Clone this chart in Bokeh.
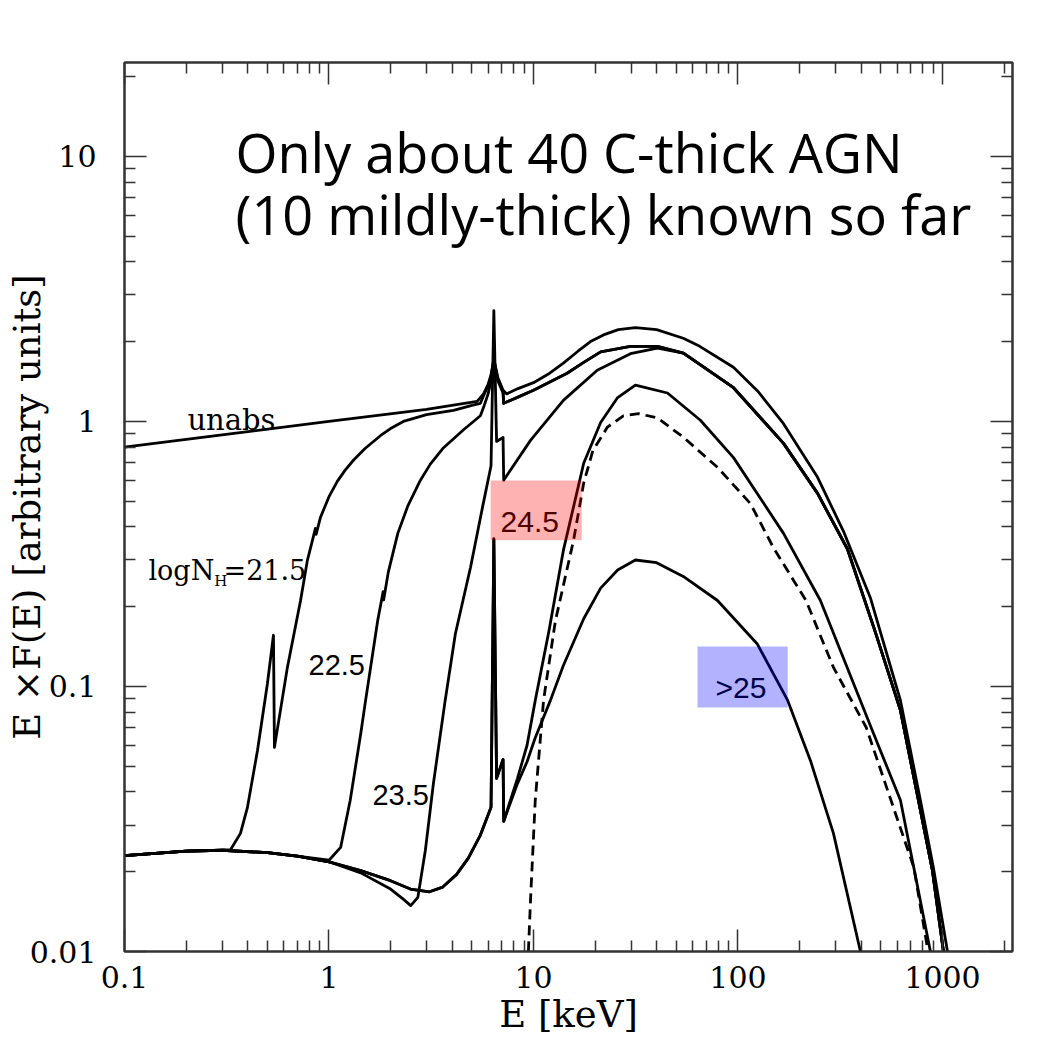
from bokeh.plotting import figure
from bokeh.models import Range1d, FixedTicker, LogAxis, Label, BoxAnnotation, CustomJSTickFormatter
from bokeh.embed import file_html
from bokeh.resources import INLINE

# ---------------- data ----------------
x_ticks = [0.1, 1, 10, 100, 1000]
x_tick_labels = ["0.1", "1", "10", "100", "1000"]
y_ticks = [0.01, 0.1, 1, 10]
y_tick_labels = ["0.01", "0.1", "1", "10"]

E_unabs = [0.1, 0.3, 1.0, 3.0, 5.3, 5.7, 6.0, 6.2, 6.4, 6.7, 7.1, 7.4, 8.4, 10, 12, 14, 16.5, 19, 22, 26,
           31.5, 40, 54, 65, 95, 125, 167, 245, 328, 445, 623, 780, 903, 1058]
F_unabs = [0.80, 0.89, 1.0, 1.11, 1.19, 1.27, 1.38, 1.50, 1.72, 1.46, 1.31, 1.27, 1.33, 1.40, 1.52, 1.66,
           1.84, 2.00, 2.12, 2.22, 2.26, 2.22, 2.06, 1.92, 1.60, 1.30, 0.98, 0.615, 0.385, 0.215, 0.0885,
           0.0372, 0.0207, 0.010]

E_nh215 = [0.1, 0.2, 0.3, 0.33, 0.369, 0.399, 0.447, 0.50, 0.535, 0.541, 0.626, 0.726, 0.784, 0.83, 0.858,
           0.865, 0.909, 1.0, 1.10, 1.2, 1.32, 1.5, 1.79, 2.0, 2.31, 3.0, 4.06, 5.0, 5.5, 5.7, 6.0, 6.2, 6.4,
           6.7, 7.1, 7.15, 8.5, 10, 14.6, 17.6, 21.3, 29.8, 40.4, 54.1, 95.1, 167, 245, 343, 470, 623, 780,
           893, 1011]
F_nh215 = [0.0230, 0.0239, 0.0241, 0.0242, 0.0279, 0.0349, 0.0573, 0.1026, 0.156, 0.0589, 0.118, 0.211,
           0.299, 0.356, 0.395, 0.375, 0.435, 0.52, 0.595, 0.655, 0.715, 0.79, 0.885, 0.94, 1.0, 1.06, 1.10,
           1.15, 1.17, 1.25, 1.36, 1.48, 1.70, 1.44, 1.29, 1.17, 1.24, 1.31, 1.52, 1.67, 1.83, 1.92, 1.92,
           1.81, 1.34, 0.826, 0.535, 0.330, 0.160, 0.0812, 0.0341, 0.0202, 0.01]

E_nh225 = [0.1, 0.2, 0.3, 0.5, 0.7, 1.0, 1.14, 1.27, 1.43, 1.51, 1.73, 1.84, 1.85, 1.95, 2.17, 2.43, 2.80,
           3.13, 3.6, 4.55, 5.5, 5.7, 6.0, 6.2, 6.4, 6.7, 7.1, 7.15, 8.5, 10, 14.6, 17.6, 21.3, 29.8, 40.4,
           54.1, 95.1, 167, 245, 343, 470, 623, 780, 893, 1011]
F_nh225 = [0.0230, 0.0239, 0.0241, 0.0236, 0.0229, 0.0221, 0.0247, 0.0372, 0.0665, 0.0886, 0.177, 0.228,
           0.212, 0.27, 0.378, 0.48, 0.60, 0.69, 0.79, 0.93, 1.05, 1.13, 1.27, 1.42, 1.68, 1.42, 1.28, 1.17,
           1.24, 1.31, 1.52, 1.67, 1.83, 1.92, 1.92, 1.81, 1.34, 0.826, 0.535, 0.330, 0.160, 0.0812, 0.0341,
           0.0202, 0.01]

E_nh235 = [0.1, 0.2, 0.3, 0.5, 0.7, 1.0, 1.43, 2.0, 2.3, 2.51, 2.72, 2.96, 3.24, 3.7, 4.15, 4.92, 5.65, 6.2,
           6.4, 6.6, 7.1, 7.15, 9.67, 14, 20.5, 29.8, 40.4, 54.1, 95.1, 167, 245, 343, 470, 623, 780, 893, 1011]
F_nh235 = [0.0230, 0.0239, 0.0241, 0.0236, 0.0229, 0.0218, 0.0198, 0.0172, 0.0158, 0.0149, 0.0160, 0.0241,
           0.043, 0.0886, 0.158, 0.281, 0.48, 0.68, 2.62, 0.84, 0.87, 0.60, 0.848, 1.20, 1.56, 1.80, 1.89,
           1.81, 1.34, 0.826, 0.535, 0.330, 0.160, 0.0812, 0.0341, 0.0202, 0.01]

E_nh245 = [0.1, 0.2, 0.3, 0.5, 0.7, 1.0, 1.43, 2.0, 2.5, 3.1, 3.6, 4.2, 4.8, 5.5, 6.2, 6.4, 6.6, 7.1, 7.15,
           8.35, 9.3, 10.2, 11.9, 14, 17.6, 21.3, 25.8, 31.5, 45.2, 65.5, 95.1, 167, 253, 460, 623, 873]
F_nh245 = [0.0230, 0.0239, 0.0241, 0.0236, 0.0229, 0.0218, 0.0202, 0.0185, 0.0172, 0.0168, 0.0175, 0.0195,
           0.0225, 0.0275, 0.035, 0.36, 0.045, 0.053, 0.031, 0.045, 0.060, 0.0886, 0.162, 0.326, 0.695, 0.99,
           1.23, 1.37, 1.28, 1.01, 0.73, 0.378, 0.211, 0.0665, 0.0372, 0.01]

E_nh25 = [0.1, 0.2, 0.3, 0.5, 0.7, 1.0, 1.43, 2.0, 2.5, 3.1, 3.6, 4.2, 4.8, 5.5, 6.2, 6.4, 6.6, 7.1, 7.15,
          8.35, 9.3, 10.2, 12.1, 14, 17.6, 21.3, 25.8, 31.5, 40, 54, 79.4, 124, 175, 226, 293, 397]
F_nh25 = [0.0230, 0.0239, 0.0241, 0.0236, 0.0229, 0.0218, 0.0202, 0.0185, 0.0172, 0.0168, 0.0175, 0.0195,
          0.0225, 0.0275, 0.035, 0.36, 0.045, 0.053, 0.031, 0.043, 0.052, 0.064, 0.0886, 0.12, 0.18, 0.235,
          0.275, 0.30, 0.293, 0.26, 0.211, 0.145, 0.0886, 0.0526, 0.0279, 0.01]

E_dash = [9.1, 9.67, 10.2, 11.2, 12.8, 15.7, 17.6, 19.5, 23.0, 27.5, 32.6, 40.4, 54.1, 79.4, 115, 149, 215,
          293, 424, 560, 725, 850]
F_dash = [0.005, 0.0156, 0.0372, 0.0886, 0.177, 0.356, 0.585, 0.775, 0.952, 1.05, 1.07, 1.03, 0.871, 0.671,
          0.49, 0.334, 0.211, 0.118, 0.070, 0.0372, 0.0207, 0.01]

# ---------------- figure ----------------
AX = "#333333"
p = figure(width=1053, height=1060, x_axis_type="log", y_axis_type="log",
           x_range=Range1d(0.1, 2200), y_range=Range1d(0.01, 22.6),
           output_backend="svg", toolbar_location=None,
           min_border_left=124, min_border_right=41, min_border_top=62, min_border_bottom=109)
p.title.visible = False
p.grid.visible = False
p.background_fill_color = "white"
p.border_fill_color = "white"
p.outline_line_color = AX
p.outline_line_width = 2

x_minor = [m * 10.0 ** k for k in range(-1, 4) for m in range(2, 10) if m * 10.0 ** k < 2200]
y_minor = [m * 10.0 ** k for k in range(-2, 2) for m in range(2, 10) if m * 10.0 ** k < 22.6]


def style(ax, ticks, minor, labels=None):
    ax.ticker = FixedTicker(ticks=ticks, minor_ticks=minor)
    ax.axis_line_color = AX
    ax.axis_line_width = 2
    ax.major_tick_line_color = AX
    ax.minor_tick_line_color = AX
    ax.major_tick_line_width = 1.5
    ax.minor_tick_line_width = 1.5
    ax.major_tick_in = 22
    ax.major_tick_out = 0
    ax.minor_tick_in = 11
    ax.minor_tick_out = 0
    if labels is None:
        ax.formatter = CustomJSTickFormatter(code="return '';")
        ax.major_label_standoff = 0
        ax.major_label_text_font_size = "2px"
    else:
        mapping = {str(t): s for t, s in zip(ticks, labels)}
        ax.formatter = CustomJSTickFormatter(args=dict(m=mapping),
                                             code="const k = String(tick); return (k in m) ? m[k] : '';")
        ax.major_label_text_font = "DejaVu Serif"
        ax.major_label_text_font_size = "30px"
        ax.major_label_text_color = "black"
        ax.axis_label_text_font = "DejaVu Serif"
        ax.axis_label_text_font_size = "37px"
        ax.axis_label_text_font_style = "normal"
        ax.axis_label_text_color = "black"


xa = p.xaxis[0]
ya = p.yaxis[0]
style(xa, x_ticks, x_minor, x_tick_labels)
style(ya, y_ticks, y_minor, y_tick_labels)
xa.axis_label = "E [keV]"
xa.major_label_standoff = 14
xa.axis_label_standoff = 2
ya.axis_label = "E \u00d7F(E) [arbitrary units]"
ya.major_label_standoff = 28
ya.axis_label_standoff = -22

top = LogAxis()
style(top, x_ticks, x_minor)
p.add_layout(top, "above")
right = LogAxis()
style(right, y_ticks, y_minor)
p.add_layout(right, "right")

LW = 2.8
for E, F in [(E_unabs, F_unabs), (E_nh215, F_nh215), (E_nh225, F_nh225), (E_nh235, F_nh235),
             (E_nh245, F_nh245), (E_nh25, F_nh25)]:
    p.line(E, F, line_color="black", line_width=LW, line_join="round")
p.line(E_dash, F_dash, line_color="black", line_width=LW, line_dash="10 6")

# highlight boxes
p.add_layout(BoxAnnotation(left=6.17, right=17.2, bottom=0.356, top=0.598,
                           fill_color="#ff0000", fill_alpha=0.3, line_alpha=0))
p.add_layout(BoxAnnotation(left=63.4, right=175, bottom=0.0833, top=0.1416,
                           fill_color="#0000ff", fill_alpha=0.3, line_alpha=0))


def lab(x, y, text, font, size, color="black"):
    p.add_layout(Label(x=x, y=y, text=text, text_font=font, text_font_size=size,
                       text_color=color, text_align="left", text_baseline="alphabetic"))


lab(0.203, 1.01, "unabs", "DejaVu Serif", "29px")
lab(0.131, 0.274, "logN", "DejaVu Serif", "27px")
lab(0.275, 0.251, "H", "DejaVu Serif", "15px")
lab(0.305, 0.274, "=21.5", "DejaVu Serif", "27px")
lab(0.794, 0.120, "22.5", "Liberation Sans", "29px")
lab(1.63, 0.0388, "23.5", "Liberation Sans", "29px")
lab(6.90, 0.416, "24.5", "Liberation Sans", "30px", "#4c0000")
lab(77.6, 0.0991, ">25", "Liberation Sans", "30px", "#00004c")

lab(0.349, 10.4, "Only about 40 C-thick AGN", "Open Sans", "54px")
lab(0.349, 6.04, "(10 mildly-thick) known so far", "Open Sans", "54px")

open("out.html", "w").write(file_html(p, INLINE))
